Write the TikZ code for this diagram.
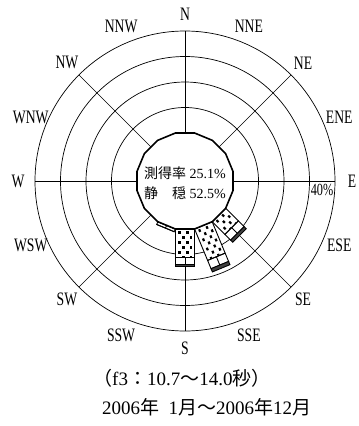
\documentclass[tikz,border=0pt]{standalone}
\usepackage{fontspec}
\setmainfont{Liberation Serif}
\newfontfamily\narrow{Liberation Serif}[FakeStretch=0.72]
\newfontfamily\jp{Noto Sans CJK JP}
\usetikzlibrary{shapes.geometric}
\tikzset{
  ring/.style={line width=0.7pt},
  lbl/.style={font=\narrow\fontsize{19}{19}\selectfont, inner sep=0pt},
  captxt/.style={font=\fontsize{19}{19}\selectfont, inner sep=0pt, anchor=west},
}
% one bar of the rose: angle, end of dots, end of lines, end of bar
\newcommand\windbar[4]{%
  \begin{scope}[rotate=#1, line width=0.9pt]
    \fill[white] (48,-9.5) rectangle (#4,9.5);
    \begin{scope}
      \clip (48,-9.5) rectangle (#2,9.5);
      \foreach \x in {50,60,...,110} {
        \fill (\x,-6.5) rectangle +(2.8,2.2);
        \fill (\x,1.5) rectangle +(2.8,2.2);
        \fill (\x+5,-2.5) rectangle +(2.8,2.2);
        \fill (\x+5,5) rectangle +(2.8,2.2);
      }
    \end{scope}
    \draw (48,-9.5) rectangle (#2,9.5);
    \draw (#2,-9.5) rectangle (#3,9.5) (#2,0) -- (#3,0);
    \draw[fill=black!75] (#3,-9.5) rectangle (#4,9.5);
  \end{scope}}

\begin{document}
\begin{tikzpicture}[x=1pt, y=1pt]
  \useasboundingbox (-185,-245) rectangle (174,181);
  \coordinate (c) at (0,0);
  \foreach \r in {73.5,99,124.5,150} \draw[ring] (c) circle (\r);
  \foreach \a in {0,45,...,315} \draw[ring] (c) -- (\a:150);
  \windbar{247.5}{48}{51}{51}
  \windbar{270}{76}{83}{85.5}
  \windbar{292.5}{82}{91}{94.5}
  \windbar{315}{66}{74}{77}
  \node[draw, line width=1.6pt, fill=white, regular polygon, regular polygon sides=16, minimum size=97.9pt, inner sep=0pt] (calm) at (c) {};
  \node[align=left, inner sep=0pt, font=\fontsize{14}{20}\selectfont] (rate) at (0,-2) {{\jp 測得率} 25.1\%\\{\jp 静　穏} 52.5\%};
  \node[lbl, font=\narrow\fontsize{17}{17}\selectfont] (pct) at (137,-9) {40\%};
  \foreach \a/\t in {90/N, 67.5/NNE, 45/NE, 22.5/ENE, 0/E, 337.5/ESE, 315/SE, 292.5/SSE,
                     270/S, 247.5/SSW, 225/SW, 202.5/WSW, 180/W, 157.5/WNW, 135/NW, 112.5/NNW}
    \node[lbl] (d\t) at (\a:167) {\t};
  \node[captxt] (cap1) at (-92,-197) {{\jp （}f3{\jp ：}10.7{\jp ～}14.0{\jp 秒）}};
  \node[captxt] (cap2) at (-83,-226) {2006{\jp 年}\enspace1{\jp 月～}2006{\jp 年}12{\jp 月}};
\end{tikzpicture}
\end{document}
